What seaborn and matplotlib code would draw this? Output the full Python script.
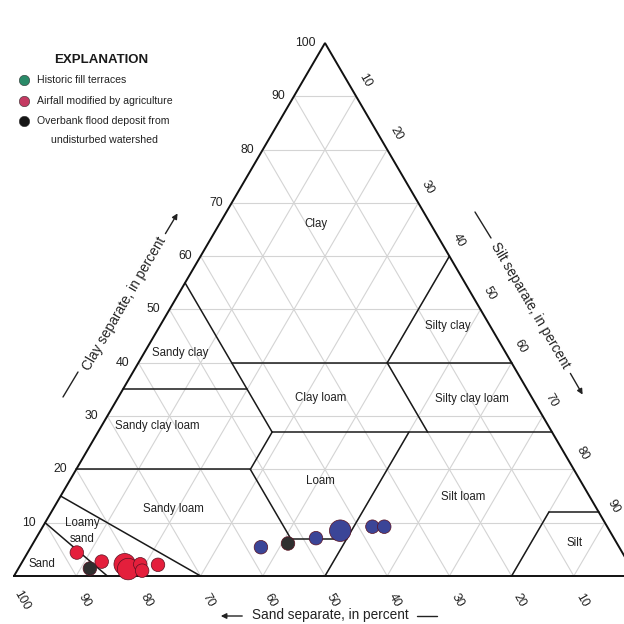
import matplotlib
matplotlib.use("Agg")
import matplotlib.pyplot as plt
import numpy as np
import pandas as pd
import seaborn as sns
from matplotlib import font_manager

# Particle-size fractions of the samples, in percent
silt = [7.9, 12.75, 16.7, 17.7, 19.2, 20.1, 22.1, 11.5,
        37.0, 45.0, 48.2, 53.0, 54.9, 41.0]
clay = [4.4, 2.7, 2.2, 1.3, 2.2, 1.0, 2.1, 1.4,
        5.4, 7.1, 8.5, 9.25, 9.25, 6.1]
group = ["Airfall modified by agriculture"] * 7 + ["Overbank flood deposit"] + \
        ["Historic fill terraces"] * 5 + ["Overbank flood deposit"]
marker_class = ["small", "small", "large", "large", "small", "small", "small", "small",
                "small", "small", "large", "small", "small", "small"]

sand = [100 - s - c for s, c in zip(silt, clay)]

tick_values = list(range(10, 101, 10))
legend_labels = ["Historic fill terraces", "Airfall modified by agriculture",
                 "Overbank flood deposit from", "undisturbed watershed"]

texture_classes = ["Clay", "Silty clay", "Sandy clay", "Clay loam", "Silty clay loam",
                   "Sandy clay loam", "Loam", "Silt loam", "Sandy loam", "Loamy\nsand",
                   "Silt", "Sand"]


def tern(sa, si, cl):
    """Ternary (sand, silt, clay) -> planar (x, y)."""
    return si + cl / 2.0, cl


df = pd.DataFrame({"sand": sand, "silt": silt, "clay": clay,
                   "group": group, "marker": marker_class})
df["x"] = df["silt"] + df["clay"] / 2.0
df["y"] = df["clay"]

sns.set_theme(style="white")
names = {f.name for f in font_manager.fontManager.ttflist}
base = "Liberation Sans Narrow" if "Liberation Sans Narrow" in names else "Liberation Sans"
plt.rcParams["font.family"] = [base, "DejaVu Sans"]

W = 624
fig = plt.figure(figsize=(6.24, 6.24), dpi=100)
fig.patch.set_facecolor("white")
ax = fig.add_axes([0, 0, 1, 1])
ax.set_xlim(-14 / 6.22, (W - 14) / 6.22)
ax.set_ylim((576 - W) / 5.33, 576 / 5.33)
ax.axis("off")


def fp(px, py):
    return px / W, 1 - py / W


# light 10-percent grid
grid_kw = dict(color="#d4d4d4", lw=0.8, zorder=1)
for v in range(10, 100, 10):
    for a, b in [((100 - v, 0, v), (0, 100 - v, v)),
                 ((100 - v, v, 0), (0, v, 100 - v)),
                 ((v, 100 - v, 0), (v, 0, 100 - v))]:
        p, q = tern(*a), tern(*b)
        ax.plot([p[0], q[0]], [p[1], q[1]], **grid_kw)

# texture class boundaries (sand, silt, clay)
bounds = [
    ((85, 15, 0), (90, 0, 10)),
    ((70, 30, 0), (85, 0, 15)),
    ((80, 0, 20), (52, 28, 20)),
    ((52, 28, 20), (52, 41, 7)),
    ((52, 41, 7), (43, 50, 7)),
    ((50, 50, 0), (23, 50, 27)),
    ((20, 80, 0), (8, 80, 12)),
    ((8, 80, 12), (0, 88, 12)),
    ((45, 28, 27), (0, 73, 27)),
    ((52, 28, 20), (45, 28, 27)),
    ((45, 28, 27), (45, 0, 55)),
    ((65, 0, 35), (45, 20, 35)),
    ((45, 15, 40), (0, 60, 40)),
    ((20, 40, 40), (0, 40, 60)),
    ((20, 53, 27), (20, 40, 40)),
]
for a, b in bounds:
    p, q = tern(*a), tern(*b)
    ax.plot([p[0], q[0]], [p[1], q[1]], color="#1a1a1a", lw=1.1, zorder=2)

outline = [tern(100, 0, 0), tern(0, 0, 100), tern(0, 100, 0), tern(100, 0, 0)]
ax.plot([p[0] for p in outline], [p[1] for p in outline], color="#111111", lw=1.4,
        zorder=3, solid_joinstyle="miter")

# sample points
palette = {"Airfall modified by agriculture": "#e41f3c",
           "Historic fill terraces": "#3b4597",
           "Overbank flood deposit": "#2f2f2f"}
sns.scatterplot(data=df, x="x", y="y", hue="group", palette=palette,
                size="marker", sizes={"small": 95, "large": 240},
                edgecolor="#5a1020", linewidth=0.5, legend=False, ax=ax, zorder=5)

# texture class labels
label_px = [(316, 224), (448, 326), (180, 353), (321, 398), (472, 399),
            (157, 426), (320, 481), (463, 497), (173, 509), (82, 531),
            (575, 543), (42, 564)]
for name, (px, py) in zip(texture_classes, label_px):
    fig.text(*fp(px, py), name, ha="center", va="center", fontsize=8.3,
             color="#222222", linespacing=1.5)

# tick labels
tk = dict(fontsize=8.8, color="#222222", textcoords="offset pixels")
for v in tick_values:
    ax.annotate(str(v), xy=tern(100 - v, 0, v), xytext=(-9, 0), ha="right",
                va="center", **tk)
    ax.annotate(str(v), xy=tern(v, 100 - v, 0), xytext=(8, -24), ha="center",
                va="center", rotation=-60, **tk)
    if v < 100:
        ax.annotate(str(v), xy=tern(0, v, 100 - v), xytext=(9, 16), ha="center",
                    va="center", rotation=-60, **tk)

# axis titles with arrows
tt = dict(fontsize=9.8, color="#222222", ha="center", va="center",
          rotation_mode="anchor")
fig.text(*fp(124, 304), "Clay separate, in percent", rotation=59.7, **tt)
fig.text(*fp(530, 305), "Silt separate, in percent", rotation=-59.7, **tt)
fig.text(*fp(330, 615), "Sand separate, in percent", **tt)

line_kw = dict(color="#222222", lw=1.0)
arrow_kw = dict(arrowstyle="-|>", color="#222222", lw=1.0, mutation_scale=8)
for a, b in [((63, 397), (78, 372)), ((475, 212), (491, 238)), ((417, 616), (437, 616))]:
    fig.add_artist(plt.Line2D([fp(*a)[0], fp(*b)[0]], [fp(*a)[1], fp(*b)[1]],
                              transform=fig.transFigure, **line_kw))
for a, b in [((164, 236), (179, 211)), ((569, 371), (584, 397)), ((245, 616), (218, 616))]:
    fig.add_artist(matplotlib.patches.FancyArrowPatch(fp(*a), fp(*b),
                   transform=fig.transFigure, **arrow_kw))

# explanation
fig.text(*fp(101, 60), "EXPLANATION", ha="center", va="center", fontsize=9.5,
         fontweight="bold", color="#1a1a1a")
legend_colors = ["#2a8a68", "#c43a62", "#151515"]
marker_rows = [80, 101, 121]
text_pos = [(37, 80), (37, 101), (37, 121), (51, 140)]
for col, py in zip(legend_colors, marker_rows):
    fig.add_artist(plt.Line2D([fp(24, py)[0]], [fp(24, py)[1]], marker="o",
                              markersize=7.5, color=col, markeredgecolor="#333333",
                              markeredgewidth=0.4, transform=fig.transFigure))
for lab, (px, py) in zip(legend_labels, text_pos):
    fig.text(*fp(px, py), lab, ha="left", va="center", fontsize=7.6, color="#222222")

fig.savefig("out.png", dpi=100, facecolor="white")
